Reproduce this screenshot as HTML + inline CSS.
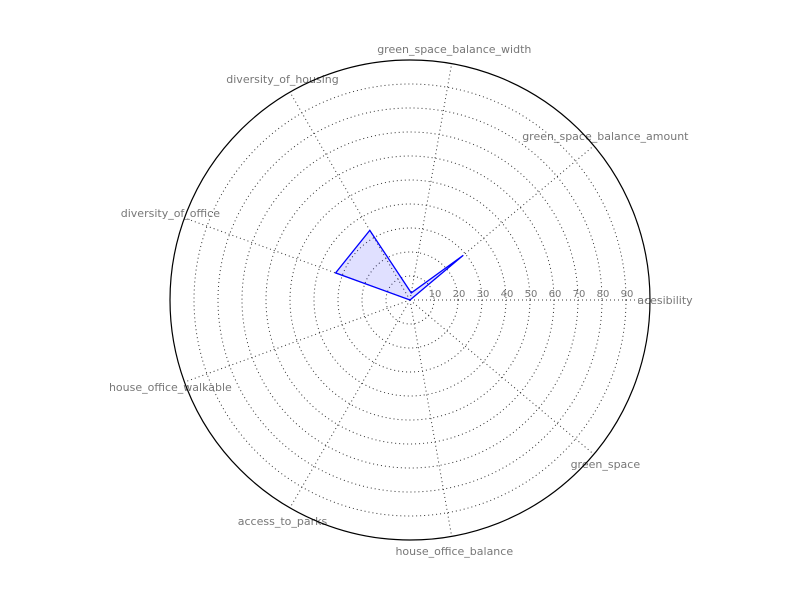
<!DOCTYPE html>
<html><head><meta charset="utf-8"><style>body{margin:0;background:#fff}svg{display:block}</style></head>
<body>
<svg id="chart" width="800" height="600" xmlns="http://www.w3.org/2000/svg" font-family="DejaVu Sans, Liberation Sans, sans-serif"></svg>
<script>
const categories=["acesibility","green_space_balance_amount","green_space_balance_width","diversity_of_housing","diversity_of_office","house_office_walkable","access_to_parks","house_office_balance","green_space"];
const values=[0,29,3,33.5,33,0,0,0,0];
const ringTicks=[10,20,30,40,50,60,70,80,90];
const maxVal=100;
const cx=410,cy=300,R=240;
const svg=document.getElementById('chart');
const NS='http://www.w3.org/2000/svg';
function mk(t,a){const e=document.createElementNS(NS,t);for(const k in a)e.setAttribute(k,a[k]);svg.appendChild(e);return e;}
function ang(i){return i*2*Math.PI/categories.length;}
function rad(v){return v/maxVal*R;}
function pt(i,v){const a=ang(i),r=rad(v);return [cx+r*Math.cos(a),cy-r*Math.sin(a)];}
ringTicks.forEach(t=>{
 const c=mk('circle',{cx:cx,cy:cy,r:rad(t),fill:'none',stroke:'#333','stroke-width':1,'stroke-dasharray':'1,3'});
 
 
 const l=mk('text',{x:cx+rad(t)+1,y:cy-3,'font-size':10,fill:'#777','text-anchor':'middle'});
 l.textContent=t;
 
 
});
categories.forEach((c,i)=>{
 const p=pt(i,maxVal);
 const ln=mk('line',{x1:cx,y1:cy,x2:p[0],y2:p[1],stroke:'#333','stroke-width':1,'stroke-dasharray':'1,3'});
 
 
 const a=ang(i),r=255;
 const t=mk('text',{x:cx+r*Math.cos(a),y:cy-r*Math.sin(a)+4,'font-size':11,fill:'#777','text-anchor':'middle'});
 t.textContent=c;
 
 
});
const outer=mk('circle',{cx:cx,cy:cy,r:R,fill:'none',stroke:'#000','stroke-width':1.2});


const pts=values.map((v,i)=>pt(i,v).join(',')).join(' ');
const poly=mk('polygon',{points:pts,fill:'rgba(0,0,255,0.12)',stroke:'#0000ff','stroke-width':1.3,'stroke-linejoin':'miter'});


</script>
</body></html>
